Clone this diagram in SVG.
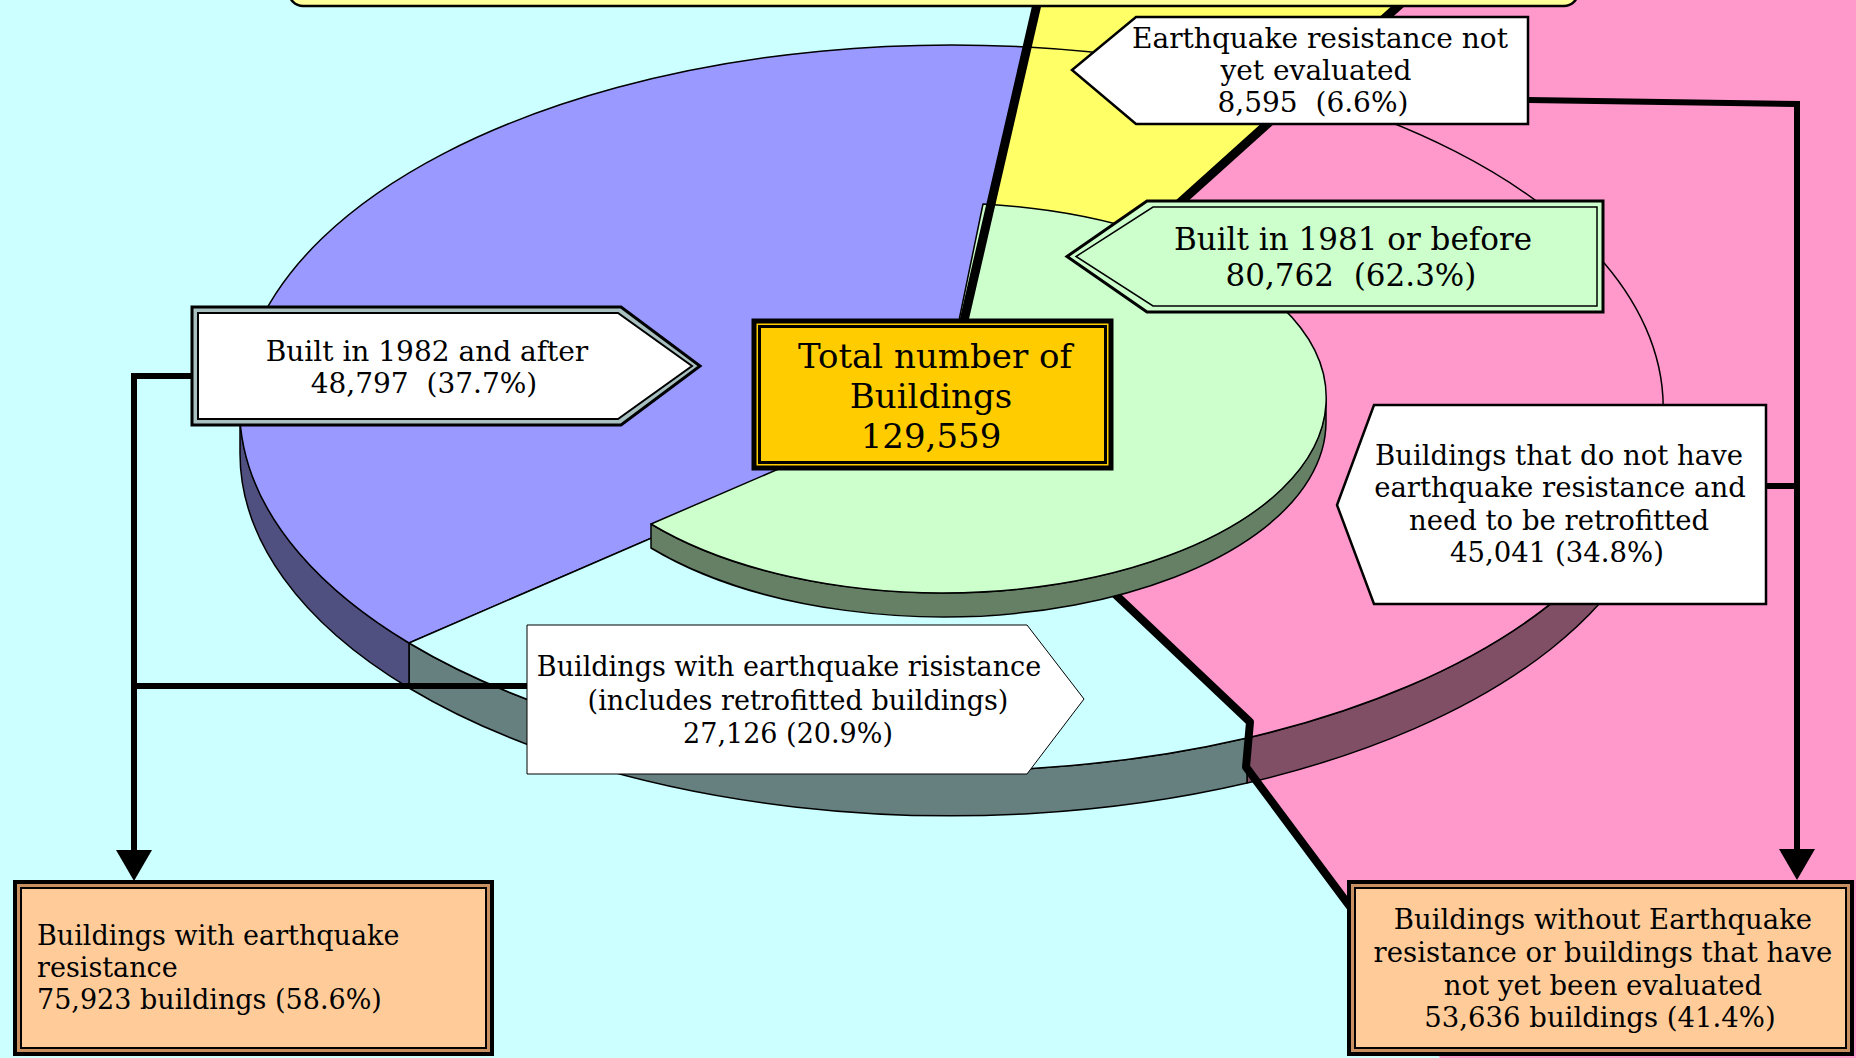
<svg xmlns="http://www.w3.org/2000/svg" width="1856" height="1058" viewBox="0 0 1856 1058">
<style>
 text { font-family: "DejaVu Serif", "Liberation Serif", serif; fill: #000; }
 .c { text-anchor: middle; }
 .edge { stroke: #000; stroke-width: 1.5; stroke-linejoin: round; }
 .thick { stroke: #000; fill: none; stroke-linejoin: round; }
 .conn { stroke: #000; stroke-width: 6; fill: none; }
</style>
<defs>
 <marker id="arrow" markerUnits="userSpaceOnUse" markerWidth="31" markerHeight="36" viewBox="0 -18 31 36" refX="0" refY="0" orient="auto">
  <path d="M0,-18 L31,0 L0,18 Z" fill="#000"/>
 </marker>
</defs>

<g id="background">
 <rect width="1856" height="1058" fill="#CCFFFF"/>
 <polygon points="952,408 1038,0 1405,0" fill="#FFFF66"/>
 <polygon points="952,408 1405,0 1856,0 1856,1058 1440,1058 1360,920 1246,767 1250,722 1079,560" fill="#FF99CC"/>
</g>

<g id="pie-outer">
 <path class="edge" fill="#804F66" d="M1664,408 A712,363 0 0 1 1247,738 L1247,783 A712,363 0 0 0 1664,453 Z"/>
 <path class="edge" fill="#668080" d="M1247,738 A712,363 0 0 1 409,643 L409,688 A712,363 0 0 0 1247,783 Z"/>
 <path class="edge" fill="#4F4F80" d="M409,643 A712,363 0 0 1 240,408 L240,453 A712,363 0 0 0 409,688 Z"/>
 <path class="edge" fill="#9999FF" d="M952,408 L409,643 A712,363 0 0 1 1027,47 Z"/>
 <path class="edge" fill="#FFFF66" d="M952,408 L1027,47 A712,363 0 0 1 1304,92.5 Z"/>
 <path class="edge" fill="#FF99CC" d="M952,408 L1304,92.5 A712,363 0 0 1 1247,738 L1250,722 L1079,560 Z"/>
 <path class="edge" fill="#CCFFFF" d="M952,408 L1079,560 L1250,722 L1247,738 A712,363 0 0 1 409,643 Z"/>
</g>

<g id="divider-lower">
 <path class="thick" stroke-width="8" d="M1079,560 L1250,722 L1246,767 L1360,920"/>
</g>

<g id="pie-inner">
 <path class="edge" fill="#668066" d="M1326,398 A383,195 0 0 1 651,524 L651,548 A383,195 0 0 0 1326,422 Z"/>
 <path class="edge" fill="#CCFFCC" d="M943,398 L983,204 A383,195 0 1 1 651,524 Z"/>
</g>

<g id="dividers">
 <path class="thick" stroke-width="9" d="M1038,0 L963,325"/>
 <path class="thick" stroke-width="9" d="M1405,0 L1165,216"/>
</g>

<g id="top-banner">
 <rect x="289" y="-40" width="1289" height="46" rx="14" fill="#FFFF99" stroke="#000" stroke-width="2.5"/>
</g>

<g id="node-after1982">
 <polygon points="192,307 621,307 700,366 621,425 192,425" fill="#A8C0C0" stroke="#000" stroke-width="3"/>
 <polygon points="198,313 618,313 692,366 618,419 198,419" fill="#fff" stroke="#000" stroke-width="2"/>
 <text class="c" x="427" y="361" font-size="28">Built in 1982 and after</text>
 <text class="c" x="424" y="393" font-size="28">48,797&#160; (37.7%)</text>
</g>

<g id="node-not-evaluated">
 <polygon points="1136,17 1528,17 1528,124 1136,124 1072,70" fill="#fff" stroke="#000" stroke-width="2.5"/>
 <text class="c" x="1320" y="48" font-size="28">Earthquake resistance not</text>
 <text class="c" x="1316" y="80" font-size="28">yet evaluated</text>
 <text class="c" x="1313" y="112" font-size="28">8,595&#160; (6.6%)</text>
</g>

<g id="node-before1981">
 <polygon points="1147,201 1603,201 1603,312 1147,312 1067,256.5" fill="#CCFFCC" stroke="#000" stroke-width="3"/>
 <polygon points="1153,207 1597,207 1597,306 1153,306 1076,256.5" fill="none" stroke="#000" stroke-width="1.5"/>
 <text class="c" x="1353" y="250" font-size="31">Built in 1981 or before</text>
 <text class="c" x="1351" y="286" font-size="31">80,762&#160; (62.3%)</text>
</g>

<g id="node-need-retrofit">
 <polygon points="1374,405 1766,405 1766,604 1374,604 1337,505" fill="#fff" stroke="#000" stroke-width="2.5"/>
 <text class="c" x="1559" y="465" font-size="27.5">Buildings that do not have</text>
 <text class="c" x="1560" y="497" font-size="27.5">earthquake resistance and</text>
 <text class="c" x="1559" y="530" font-size="27.5">need to be retrofitted</text>
 <text class="c" x="1557" y="562" font-size="27.5">45,041 (34.8%)</text>
</g>

<g id="node-with-resistance-label">
 <polygon points="527,625 1027,625 1084,699 1027,774 527,774" fill="#fff" stroke="#000" stroke-width="1"/>
 <text class="c" x="789" y="676" font-size="27">Buildings with earthquake risistance</text>
 <text class="c" x="798" y="710" font-size="27">(includes retrofitted buildings)</text>
 <text class="c" x="788" y="743" font-size="27">27,126 (20.9%)</text>
</g>

<g id="node-total">
 <rect x="754" y="321" width="357" height="147" fill="#FFCC00" stroke="#000" stroke-width="5"/>
 <rect x="759.5" y="326.5" width="346" height="136" fill="none" stroke="#000" stroke-width="3"/>
 <text class="c" x="935" y="368" font-size="34">Total number of</text>
 <text class="c" x="931" y="408" font-size="34">Buildings</text>
 <text class="c" x="931" y="448" font-size="34">129,559</text>
</g>

<g id="connectors">
 <path class="conn" d="M192,376 H134 V850" marker-end="url(#arrow)"/>
 <path class="conn" d="M527,686 H134"/>
 <path class="conn" d="M1528,100 L1797,104 V849" marker-end="url(#arrow)"/>
 <path class="conn" d="M1766,486 H1797"/>
</g>

<g id="node-with-resistance">
 <rect x="15" y="882" width="477" height="172" fill="#C89060" stroke="#000" stroke-width="4"/>
 <rect x="21" y="888" width="465" height="160" fill="#FFCC99" stroke="#000" stroke-width="2"/>
 <text x="37" y="945" font-size="27">Buildings with earthquake</text>
 <text x="37" y="977" font-size="27">resistance</text>
 <text x="37" y="1009" font-size="27">75,923 buildings (58.6%)</text>
</g>

<g id="node-without-resistance">
 <rect x="1349" y="882" width="503" height="172" fill="#C89060" stroke="#000" stroke-width="4"/>
 <rect x="1355" y="888" width="491" height="160" fill="#FFCC99" stroke="#000" stroke-width="2"/>
 <text class="c" x="1603" y="929" font-size="27.5">Buildings without Earthquake</text>
 <text class="c" x="1603" y="962" font-size="27.5">resistance or buildings that have</text>
 <text class="c" x="1603" y="995" font-size="27.5">not yet been evaluated</text>
 <text class="c" x="1600" y="1027" font-size="27.5">53,636 buildings (41.4%)</text>
</g>
</svg>
